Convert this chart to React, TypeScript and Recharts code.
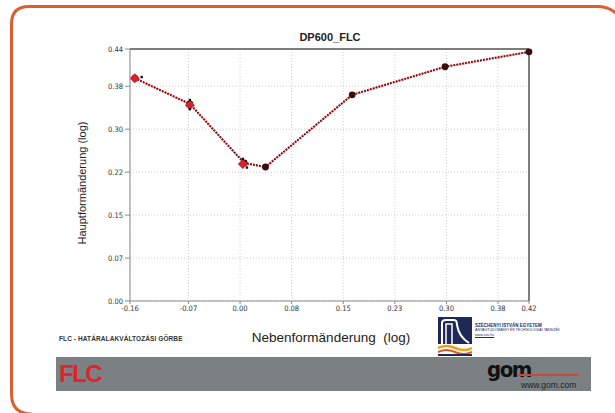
import React from 'react';
import {
  ComposedChart,
  Scatter,
  XAxis,
  YAxis,
  CartesianGrid,
  ReferenceLine,
} from 'recharts';

// forming limit curve, minor vs. major true strain
const minorStrain = [-0.153, -0.073, 0.006, 0.037, 0.163, 0.298, 0.42];
const majorStrain = [0.389, 0.344, 0.241, 0.234, 0.36, 0.409, 0.435];

// single measured points around the curve (red markers)
const measuredMinor = [-0.153, -0.073, 0.004];
const measuredMajor = [0.389, 0.342, 0.239];

// scattered section points
const sectionMinor = [-0.143, -0.073, -0.073, 0.004, 0.01];
const sectionMajor = [0.391, 0.351, 0.335, 0.248, 0.233];

const xTicks = [-0.16, -0.075, 0, 0.075, 0.15, 0.225, 0.3, 0.375, 0.42];
const xTickLabels = ['-0.16', '-0.07', '0.00', '0.08', '0.15', '0.23', '0.30', '0.38', '0.42'];
const yTicks = [0, 0.075, 0.15, 0.225, 0.3, 0.375, 0.44];
const yTickLabels = ['0.00', '0.07', '0.15', '0.22', '0.30', '0.38', '0.44'];

const toPoints = (xs: number[], ys: number[]) => xs.map((x, i) => ({ x, y: ys[i] }));

const curve = toPoints(minorStrain, majorStrain);
const measured = toPoints(measuredMinor, measuredMajor);
const section = toPoints(sectionMinor, sectionMajor);

const tickFont = "'Liberation Sans Narrow', 'DejaVu Sans Condensed', sans-serif";
const sans = "'Liberation Sans', Arial, sans-serif";

const Diamond = (p: any) => (
  <path
    d={`M${p.cx},${p.cy - 5} L${p.cx + 5},${p.cy} L${p.cx},${p.cy + 5} L${p.cx - 5},${p.cy} Z`}
    fill="#d3242b"
  />
);
const Dot = (p: any) => <circle cx={p.cx} cy={p.cy} r={3.4} fill="#3b0d0e" />;
const Small = (p: any) => <rect x={p.cx - 1.2} y={p.cy - 1.2} width={2.4} height={2.4} fill="#111" />;
const None = () => <g />;

function UniLogo() {
  return (
    <svg width={34} height={39} style={{ position: 'absolute', left: 438, top: 317 }}>
      <rect x={0} y={0} width={34} height={27} fill="#1e2958" />
      <path d="M4,27 L4,6 Q4,3 8,3 L16,3 Q19,3 19,8 Q21,20 31,26" stroke="#fff" strokeWidth={2} fill="none" />
      <path d="M8,27 L8,7 L14,7 L14,27" stroke="#fff" strokeWidth={1.5} fill="none" />
      <path d="M0,31 Q8,27 17,31 T34,31" stroke="#e8a21f" strokeWidth={2.5} fill="none" />
      <path d="M0,35 Q8,31 17,35 T34,35" stroke="#e2571f" strokeWidth={2} fill="none" />
      <rect x={0} y={37} width={34} height={2} fill="#1e2958" />
    </svg>
  );
}

export default function App() {
  return (
    <div style={{ position: 'absolute', left: 0, top: 0, width: 615, height: 413, overflow: 'hidden', background: '#fff', fontFamily: sans }}>
      {/* rounded frame: only the top and left edges fall inside the page */}
      <svg width={615} height={413} style={{ position: 'absolute', left: 0, top: 0 }}>
        <path
          d="M32,414 Q11.5,414 11.5,394 L11.5,24 Q11.5,6.5 29,6.5 L597,6.5 Q611,6.5 617,15"
          stroke="#d9602c"
          strokeWidth={3}
          fill="none"
        />
      </svg>

      <div style={{ position: 'absolute', left: 230, width: 200, top: 31, textAlign: 'center', fontSize: 11, fontWeight: 'bold', color: '#222' }}>
        DP600_FLC
      </div>

      <ComposedChart width={615} height={413} margin={{ top: 49, right: 86, bottom: 92, left: 70 }} style={{ position: 'absolute', left: 0, top: 0 }}>
        <CartesianGrid stroke="#cfcfcf" strokeDasharray="1 2" />
        <XAxis
          type="number"
          dataKey="x"
          domain={[-0.16, 0.42]}
          ticks={xTicks}
          interval={0}
          tickFormatter={(v: number, i: number) => xTickLabels[i] ?? String(v)}
          height={20}
          tickSize={3}
          stroke="#8a8a8a"
          tick={{ fill: '#333', fontSize: 7.5, fontFamily: tickFont }}
        />
        <YAxis
          type="number"
          dataKey="y"
          domain={[0, 0.44]}
          ticks={yTicks}
          interval={0}
          tickFormatter={(v: number, i: number) => yTickLabels[i] ?? String(v)}
          width={60}
          tickSize={5}
          stroke="#8a8a8a"
          tick={{ fill: '#333', fontSize: 7.5, fontFamily: tickFont }}
        />
        <ReferenceLine y={0.44} stroke="#7d7d7d" strokeWidth={2} />
        <ReferenceLine x={0.42} stroke="#7d7d7d" strokeWidth={2} />
        <Scatter
          data={curve}
          line={{ stroke: '#c8262c', strokeWidth: 2.2, strokeDasharray: '2 1' }}
          shape={None}
          isAnimationActive={false}
        />
        <Scatter
          data={curve}
          line={{ stroke: '#2a0a0a', strokeWidth: 1.3, strokeDasharray: '1 2' }}
          shape={None}
          isAnimationActive={false}
        />
        <Scatter data={curve} shape={Dot} isAnimationActive={false} />
        <Scatter data={measured} shape={Diamond} isAnimationActive={false} />
        <Scatter data={section} shape={Small} isAnimationActive={false} />
      </ComposedChart>

      <div
        style={{
          position: 'absolute',
          left: 82,
          top: 183,
          transform: 'translate(-50%, -50%) rotate(-90deg)',
          whiteSpace: 'nowrap',
          fontSize: 11,
          color: '#222',
        }}
      >
        Hauptformänderung (log)
      </div>

      <div style={{ position: 'absolute', left: 59, top: 335, fontSize: 6.5, fontWeight: 'bold', color: '#333', letterSpacing: 0.1 }}>
        FLC - HATÁRALAKVÁLTOZÁSI GÖRBE
      </div>
      <div style={{ position: 'absolute', left: 231, width: 200, top: 330, textAlign: 'center', fontSize: 13.5, color: '#222', whiteSpace: 'pre' }}>
        {'Nebenformänderung  (log)'}
      </div>

      <UniLogo />
      <div style={{ position: 'absolute', left: 475, top: 323, fontSize: 4.5, lineHeight: '5px', color: '#1e2958', whiteSpace: 'nowrap' }}>
        <div style={{ fontWeight: 'bold' }}>SZÉCHENYI ISTVÁN EGYETEM</div>
        <div style={{ fontSize: 3.6 }}>ANYAGTUDOMÁNYI ÉS TECHNOLÓGIAI TANSZÉK</div>
        <div style={{ textDecoration: 'underline', fontSize: 3.6 }}>www.sze.hu</div>
      </div>

      {/* footer banner */}
      <div style={{ position: 'absolute', left: 56, top: 357, width: 535, height: 34, background: '#7b8183' }}>
        <div style={{ position: 'absolute', left: 3, top: 4, fontSize: 24, fontWeight: 'bold', color: '#e3222b', letterSpacing: -1.5, lineHeight: '26px' }}>FLC</div>
        <div style={{ position: 'absolute', left: 431, top: 1, fontSize: 22, fontWeight: 'bold', color: '#111', letterSpacing: -1.5, lineHeight: '24px', fontFamily: tickFont }}>gom</div>
        <div style={{ position: 'absolute', left: 461, top: 17, width: 62, height: 1.5, background: '#c84a3c' }} />
        <div style={{ position: 'absolute', left: 465, top: 23, fontSize: 8.5, color: '#222' }}>www.gom.com</div>
      </div>
    </div>
  );
}
